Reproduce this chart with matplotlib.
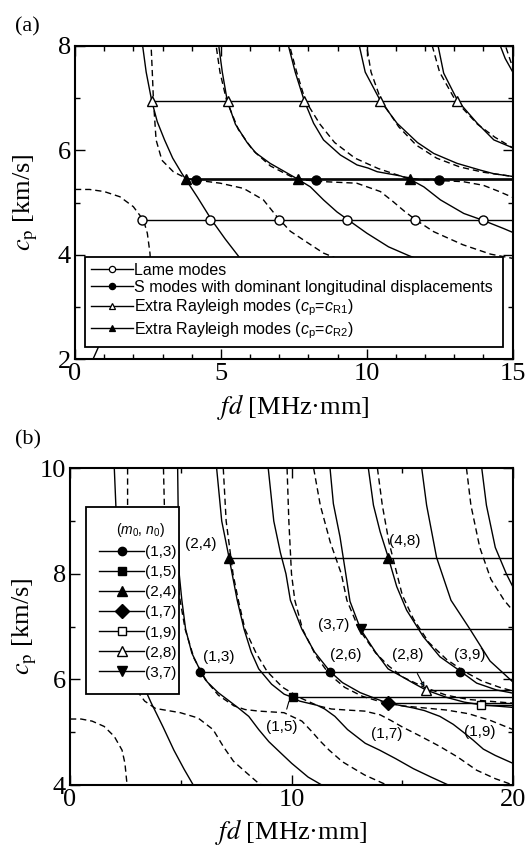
import matplotlib
matplotlib.use("Agg")
import matplotlib.pyplot as plt
from matplotlib.lines import Line2D
from matplotlib.ticker import MultipleLocator

# dispersion curves, fd [MHz mm] vs cp [km/s]
S0_X = [0.62, 0.90, 1.20]
S0_C = [2.00, 2.35, 2.80]
S1_X = [2.00, 2.10, 2.32, 2.44, 2.63, 2.82, 3.07, 3.35, 3.66, 3.85, 4.20, 4.69, 5.15, 5.62, 6.10, 6.60]
S1_C = [10.0, 9.00, 8.00, 7.50, 6.95, 6.55, 6.20, 5.85, 5.56, 5.40, 5.10, 4.66, 4.30, 3.96, 3.62, 3.30]
S2_X = [4.86, 4.89, 4.93, 5.05, 5.22, 5.50, 5.90, 6.20, 6.69, 7.10, 7.60, 8.07, 8.52, 8.98, 9.38, 10.01, 10.75, 11.45, 12.30]
S2_C = [10.0, 9.00, 8.00, 7.50, 6.95, 6.50, 6.15, 5.95, 5.75, 5.62, 5.46, 5.30, 5.05, 4.82, 4.66, 4.41, 4.15, 3.98, 3.80]
S3_X = [6.62, 6.85, 7.18, 7.32, 7.55, 7.86, 8.18, 8.52, 9.10, 9.67, 10.05, 10.36, 11.16, 11.50, 11.96, 12.53, 13.33, 13.98, 14.70, 15.50, 16.30, 17.08, 18.00]
S3_C = [10.0, 9.00, 8.31, 8.00, 7.50, 6.95, 6.52, 6.20, 5.91, 5.72, 5.66, 5.59, 5.51, 5.44, 5.30, 5.05, 4.79, 4.66, 4.50, 4.31, 4.15, 4.00, 3.85]
S4_X = [8.95, 9.20, 9.50, 9.75, 9.95, 10.47, 11.04, 11.74, 12.30, 13.10, 13.90, 14.37, 15.00, 15.50, 16.00, 16.70, 17.30, 17.76, 18.20, 18.66, 19.20, 20.00]
S4_C = [10.0, 9.00, 8.40, 8.00, 7.50, 6.95, 6.52, 6.15, 5.94, 5.75, 5.62, 5.55, 5.50, 5.46, 5.41, 5.30, 5.15, 5.00, 4.85, 4.68, 4.56, 4.41]
S5_X = [11.74, 11.89, 12.19, 12.45, 12.64, 13.12, 13.79, 14.36, 15.00, 15.50, 16.07, 17.00, 17.80, 18.54, 20.00]
S5_C = [10.00, 9.33, 8.70, 8.00, 7.48, 6.95, 6.52, 6.20, 6.05, 5.93, 5.80, 5.66, 5.57, 5.52, 5.47]
S6_X = [13.47, 13.70, 14.00, 14.37, 14.75, 15.20, 15.95, 16.70, 17.61, 18.36, 19.26, 20.00]
S6_C = [10.00, 9.30, 8.80, 8.31, 7.76, 7.31, 6.81, 6.43, 6.16, 5.93, 5.80, 5.74]
S7_X = [15.88, 16.10, 16.55, 17.20, 18.06, 18.96, 20.00]
S7_C = [10.00, 9.30, 8.31, 7.50, 6.95, 6.35, 5.95]
S8_X = [18.59, 18.80, 19.20, 19.70, 20.00]
S8_C = [10.00, 9.30, 8.50, 8.00, 7.75]

D0_X = [0.00, 0.50, 1.00, 1.54, 2.00, 2.35, 2.48, 2.57, 2.62, 2.65]
D0_C = [5.25, 5.25, 5.21, 5.11, 4.92, 4.66, 4.41, 4.03, 3.60, 3.00]
D1_X = [2.60, 2.60, 2.61, 2.65, 2.69, 2.78, 2.98, 3.37, 3.86, 4.98, 5.78, 6.46, 6.92, 7.38, 8.00, 8.52, 9.10]
D1_C = [10.0, 9.00, 8.00, 7.50, 6.95, 6.20, 5.81, 5.59, 5.45, 5.37, 5.27, 5.05, 4.73, 4.45, 4.22, 4.03, 3.90]
D2_X = [4.22, 4.26, 4.45, 4.84, 4.97, 5.20, 5.60, 6.10, 6.70, 7.40, 7.90, 8.52, 9.66, 10.47, 10.90, 11.30, 11.70, 12.30, 13.30, 14.25, 15.00, 15.80]
D2_C = [10.0, 9.30, 8.70, 8.00, 7.50, 6.95, 6.40, 6.00, 5.70, 5.50, 5.43, 5.40, 5.37, 5.21, 5.02, 4.83, 4.66, 4.44, 4.19, 4.01, 3.93, 3.85]
D3_X = [6.92, 7.05, 7.36, 7.60, 7.90, 8.40, 8.90, 9.60, 10.40, 11.20, 11.80, 12.50, 13.30, 14.00, 14.50, 15.00, 15.80, 16.70, 17.50, 18.36, 19.20, 20.00]
D3_C = [10.0, 9.00, 8.00, 7.50, 6.95, 6.50, 6.15, 5.85, 5.65, 5.50, 5.44, 5.42, 5.40, 5.33, 5.22, 5.10, 4.93, 4.73, 4.53, 4.28, 4.12, 4.00]
D4_X = [9.80, 9.88, 10.00, 10.15, 10.50, 11.10, 11.70, 12.40, 13.20, 14.00, 15.00, 16.00, 17.00, 18.00, 19.00, 20.00]
D4_C = [10.0, 9.00, 8.00, 7.50, 6.95, 6.45, 6.10, 5.85, 5.68, 5.58, 5.50, 5.46, 5.42, 5.35, 5.22, 5.05]
D5_X = [11.00, 11.30, 11.75, 12.25, 12.50, 13.05, 13.80, 14.40, 15.00, 16.00, 17.00, 18.00, 20.00]
D5_C = [10.00, 9.30, 8.60, 8.00, 7.50, 6.95, 6.50, 6.25, 6.05, 5.85, 5.70, 5.62, 5.55]
D6_X = [13.88, 14.10, 14.40, 14.76, 15.00, 15.50, 16.20, 17.00, 17.80, 18.60, 19.40, 20.00]
D6_C = [10.00, 9.30, 8.60, 8.00, 7.60, 7.15, 6.70, 6.38, 6.15, 5.97, 5.85, 5.78]
D7_X = [17.90, 18.10, 18.50, 19.00, 19.60, 20.00]
D7_C = [10.00, 9.30, 8.50, 7.90, 7.50, 7.30]

SOLID = [(S0_X, S0_C), (S1_X, S1_C), (S2_X, S2_C), (S3_X, S3_C), (S4_X, S4_C),
         (S5_X, S5_C), (S6_X, S6_C), (S7_X, S7_C), (S8_X, S8_C)]
DASHED = [(D0_X, D0_C), (D1_X, D1_C), (D2_X, D2_C), (D3_X, D3_C), (D4_X, D4_C),
          (D5_X, D5_C), (D6_X, D6_C), (D7_X, D7_C)]

# panel (a) marker rows
LAME_C = 4.66
LAME_X = [2.31, 4.63, 7.01, 9.33, 11.65, 13.98]
SLONG_C = 5.43
SLONG_X = [4.15, 8.27, 12.47]
R1_C = 6.95
R1_X = [2.63, 5.24, 7.86, 10.47, 13.10]
R2_C = 5.45
R2_X = [3.81, 7.64, 11.50]
LEGEND_A = ["Lame modes",
            "S modes with dominant longitudinal displacements",
            r"Extra Rayleigh modes ($c_\mathrm{p}$=$c_\mathrm{R1}$)",
            r"Extra Rayleigh modes ($c_\mathrm{p}$=$c_\mathrm{R2}$)"]

# panel (b) marker rows: (label, cp, fd of each marked point, marker, filled)
MODES_B = [("(1,3)", 6.15, [5.87, 11.74, 17.61], "o", True),
           ("(1,5)", 5.66, [10.05], "s", True),
           ("(2,4)", 8.31, [7.18, 14.37], "^", True),
           ("(1,7)", 5.55, [14.37], "D", True),
           ("(1,9)", 5.52, [18.54], "s", False),
           ("(2,8)", 5.80, [16.07], "^", False),
           ("(3,7)", 6.95, [13.12], "v", True)]
MS_B = {"o": 6, "s": 6, "^": 7, "D": 7, "v": 7}

plt.rcParams["font.family"] = "Liberation Serif"
plt.rcParams["mathtext.fontset"] = "custom"
plt.rcParams["mathtext.rm"] = "Liberation Sans"
plt.rcParams["mathtext.it"] = "Liberation Sans:italic"

SANS = "Liberation Sans"
DASH = (0, (4.5, 2.8))


def style_axes(ax, xmax, xmaj, xmin, ymin, ymax):
    ax.set_xlim(0, xmax)
    ax.set_ylim(ymin, ymax)
    ax.xaxis.set_major_locator(MultipleLocator(xmaj))
    ax.xaxis.set_minor_locator(MultipleLocator(xmin))
    ax.yaxis.set_major_locator(MultipleLocator(2))
    ax.yaxis.set_minor_locator(MultipleLocator(1))
    ax.tick_params(which="both", direction="in", top=True, right=True,
                   labelsize=19, width=1.0, pad=3)
    ax.tick_params(which="major", length=7)
    ax.tick_params(which="minor", length=3.5)
    for sp in ax.spines.values():
        sp.set_linewidth(1.5)
    ax.set_ylabel(r"$c_\mathrm{p}$ [km/s]", fontsize=19, math_fontfamily="stix")
    ax.set_xlabel(r"$fd$ [MHz·mm]", fontsize=19, math_fontfamily="stix")
    ax.yaxis.label.set_va("center")
    ax.xaxis.label.set_va("center")


def draw_curves(ax):
    for xs, cs in SOLID:
        ax.plot(xs, cs, color="black", lw=1.0, zorder=2)
    for xs, cs in DASHED:
        ax.plot(xs, cs, color="black", lw=1.0, ls=DASH, zorder=2)


fig = plt.figure(figsize=(5.26, 8.49), dpi=100)

# ---------------- panel (a)
axa = fig.add_axes([75 / 526, 1 - 359 / 849, 437.5 / 526, 313 / 849])
style_axes(axa, 15, 5, 1, 2, 8)
draw_curves(axa)

rows_a = [(LAME_C, LAME_X, "o", "white", 6.5, 1.0),
          (SLONG_C, SLONG_X, "o", "black", 6.5, 1.2),
          (R1_C, R1_X, "^", "white", 7.5, 1.0),
          (R2_C, R2_X, "^", "black", 7.0, 1.2)]
handles_a = []
for (c, xs, mk, fc, ms, lw), lab in zip(rows_a, LEGEND_A):
    axa.plot([xs[0], 15], [c, c], color="black", lw=lw, zorder=3)
    axa.plot(xs, [c] * len(xs), ls="none", marker=mk, mfc=fc, mec="black",
             ms=ms, mew=1.0, zorder=4)
    handles_a.append(Line2D([], [], color="black", lw=1.0, marker=mk, mfc=fc,
                            mec="black", ms=4.5, mew=0.9))

leg_a = axa.legend(handles_a, LEGEND_A, loc="lower left", mode="expand",
                   bbox_to_anchor=(0.023, 0.039, 0.956, 0.29), borderaxespad=0,
                   prop={"family": SANS, "size": 11.5}, handlelength=2.6,
                   handletextpad=0.1, labelspacing=0.14, borderpad=0.38,
                   fancybox=False, framealpha=1, edgecolor="black")
leg_a.get_frame().set_linewidth(1.3)

axa.xaxis.set_label_coords(0.5, -0.153)
axa.yaxis.set_label_coords(-0.112, 0.5)
fig.text(27.5 / 526, 1 - 27 / 849, "(a)", fontsize=16, ha="center", va="center")

# ---------------- panel (b)
axb = fig.add_axes([70 / 526, 1 - 785 / 849, 443 / 526, 316.7 / 849])
style_axes(axb, 20, 10, 5, 4, 10)
draw_curves(axb)

handles_b = []
for lab, c, xs, mk, filled in MODES_B:
    fc = "black" if filled else "white"
    axb.plot([xs[0], 20], [c, c], color="black", lw=1.0, zorder=3)
    axb.plot(xs, [c] * len(xs), ls="none", marker=mk, mfc=fc, mec="black",
             ms=MS_B[mk], mew=1.0, zorder=4)
    handles_b.append(Line2D([], [], color="black", lw=1.0, marker=mk, mfc=fc,
                            mec="black", ms=MS_B[mk], mew=1.0))

leg_b = axb.legend(handles_b, [m[0] for m in MODES_B], loc="upper left",
                   mode="expand", bbox_to_anchor=(0.0354, 0.29, 0.2106, 0.587),
                   borderaxespad=0, title=r"($m_0$, $n_0$)", alignment="right",
                   prop={"family": SANS, "size": 11}, title_fontsize=10,
                   handlelength=2.9, handletextpad=0.05, labelspacing=0.4,
                   borderpad=0.9, fancybox=False, framealpha=1, edgecolor="black")
leg_b.get_title().set_family(SANS)
leg_b.get_frame().set_linewidth(1.3)

label_pos = {"(2,4)": (5.91, 8.56), "(4,8)": (15.1, 8.63), "(3,7)": (11.9, 7.03),
             "(1,3)": (6.73, 6.42), "(2,6)": (12.45, 6.46), "(3,9)": (18.05, 6.46),
             "(1,7)": (14.3, 4.96), "(1,9)": (18.5, 5.01)}
for lab, (x, y) in label_pos.items():
    axb.text(x, y, lab, family=SANS, fontsize=11, ha="center", va="center", zorder=6)
axb.annotate("(1,5)", xy=(9.88, 5.58), xytext=(9.56, 5.1), family=SANS, fontsize=11,
             ha="center", va="center",
             arrowprops=dict(arrowstyle="-", lw=0.8, shrinkA=6, shrinkB=0))
axb.annotate("(2,8)", xy=(16.0, 5.86), xytext=(15.24, 6.46), family=SANS, fontsize=11,
             ha="center", va="center",
             arrowprops=dict(arrowstyle="-|>", lw=0.8, mutation_scale=6,
                             shrinkA=7, shrinkB=0))

axb.xaxis.set_label_coords(0.5, -0.149)
axb.yaxis.set_label_coords(-0.1016, 0.5)
fig.text(27.5 / 526, 1 - 440 / 849, "(b)", fontsize=16, ha="center", va="center")

fig.savefig("out.png", dpi=100)
